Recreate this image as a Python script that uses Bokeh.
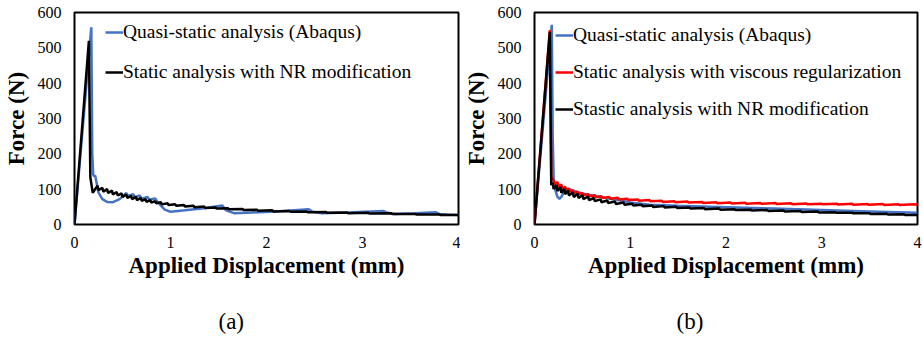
from bokeh.plotting import figure
from bokeh.layouts import row
from bokeh.models import Range1d, FixedTicker, Legend, LegendItem, Title, LinearAxis, CustomJSTickFormatter
from bokeh.embed import file_html
from bokeh.resources import INLINE

# ---------------- data (a) ----------------
qs_a_x = [0, 0.175, 0.185, 0.195, 0.205, 0.215, 0.225, 0.25, 0.29, 0.34, 0.40, 0.47, 0.54, 0.56,
          0.61, 0.63, 0.68, 0.70, 0.76, 0.78, 0.84, 0.87, 0.94, 1.00, 1.15, 1.35, 1.54, 1.58,
          1.66, 1.85, 2.10, 2.44, 2.48, 2.58, 2.85, 3.22, 3.26, 3.34, 3.55, 3.76, 3.80, 3.88, 4.00]
qs_a_y = [0, 558, 200, 141, 136, 139, 125, 90, 72, 64, 63, 72, 89, 80,
          86, 77, 82, 73, 78, 70, 74, 62, 42, 36, 40, 46, 54, 40,
          32, 34, 37, 43, 36, 32, 34, 38, 33, 30, 32, 35, 30, 28, 27]

nr_a_x = [0, 0.15, 0.165, 0.19, 0.24, 0.25, 0.29, 0.30, 0.34, 0.35, 0.39, 0.40, 0.44, 0.45,
          0.49, 0.50, 0.54, 0.55, 0.59, 0.60, 0.64, 0.65, 0.69, 0.70, 0.74, 0.75, 0.79, 0.80,
          0.84, 0.85, 0.90, 0.91, 0.97, 0.98, 1.05, 1.06, 1.14, 1.15, 1.24, 1.25, 1.35, 1.36,
          1.47, 1.48, 1.60, 1.61, 1.75, 1.76, 1.90, 1.91, 2.06, 2.07, 2.24, 2.25, 2.42, 2.43,
          2.62, 2.63, 2.84, 2.85, 3.06, 3.07, 3.30, 3.31, 3.55, 3.56, 3.80, 3.81, 4.00]
nr_a_y = [0, 520, 134, 90, 110, 97, 104, 93, 100, 89, 96, 85, 92, 82,
          88, 78, 85, 75, 81, 72, 78, 69, 75, 67, 72, 64, 69, 62,
          66, 60, 63, 57, 60, 55, 57, 53, 55, 51, 53, 49, 51, 47,
          48, 45, 46, 43, 44, 41, 42, 39, 40, 37, 38, 36, 37, 35,
          35.5, 33.5, 34, 32, 33, 31, 31.5, 29.5, 30, 28, 28.5, 27, 27]

# ---------------- data (b) ----------------
qs_b_x = [0, 0.18, 0.19, 0.20, 0.22, 0.24, 0.26, 0.28, 0.31, 0.34, 0.37, 0.42, 0.50, 0.60,
          0.75, 0.90, 1.00, 1.20, 1.50, 2.00, 2.50, 3.00, 3.50, 4.00]
qs_b_y = [0, 565, 250, 130, 95, 78, 73, 78, 92, 100, 99, 94, 88, 82,
          75, 68, 62, 56, 53, 49, 45, 41, 37, 33]

vr_b_x = [0, 0.16, 0.17, 0.175, 0.20, 0.21, 0.24, 0.25, 0.28, 0.29, 0.32, 0.33, 0.36, 0.37,
          0.40, 0.41, 0.45, 0.46, 0.50, 0.51, 0.56, 0.57, 0.63, 0.64, 0.70, 0.71, 0.78, 0.79,
          0.87, 0.88, 0.97, 0.98, 1.08, 1.09, 1.20, 1.21, 1.33, 1.34, 1.46, 1.47, 1.60, 1.61,
          1.75, 1.76, 1.90, 1.91, 2.05, 2.06, 2.20, 2.21, 2.36, 2.37, 2.52, 2.53, 2.68, 2.69,
          2.84, 2.85, 3.00, 3.01, 3.16, 3.17, 3.32, 3.33, 3.48, 3.49, 3.64, 3.65, 3.80, 3.81,
          3.96, 4.00]
vr_b_y = [0, 550, 300, 135, 125, 114, 120, 108, 113, 102, 107, 97, 102, 93,
          97, 89, 93, 86, 89, 83, 86, 80, 83, 77, 80, 75, 78, 73,
          76, 71, 73, 69, 71, 67, 69, 65.5, 67.5, 64, 66, 63, 65, 62,
          64, 61, 63, 60, 62, 59.5, 61.5, 59, 61, 58.5, 60.5, 58, 60, 57.5,
          59.5, 57, 59, 57, 59, 56.5, 58.5, 56, 58, 56, 58, 55.5, 57.5, 55.5,
          57.5, 56]

nr_b_x = [0, 0.16, 0.17, 0.175, 0.19, 0.20, 0.23, 0.24, 0.27, 0.28, 0.31, 0.32, 0.35, 0.36,
          0.40, 0.41, 0.45, 0.46, 0.50, 0.51, 0.56, 0.57, 0.62, 0.63, 0.69, 0.70, 0.76, 0.77,
          0.84, 0.85, 0.93, 0.94, 1.02, 1.03, 1.12, 1.13, 1.23, 1.24, 1.35, 1.36, 1.48, 1.49,
          1.62, 1.63, 1.77, 1.78, 1.93, 1.94, 2.09, 2.10, 2.26, 2.27, 2.43, 2.44, 2.60, 2.61,
          2.78, 2.79, 2.96, 2.97, 3.14, 3.15, 3.32, 3.33, 3.50, 3.51, 3.68, 3.69, 3.86, 3.87, 4.00]
nr_b_y = [0, 545, 250, 112, 118, 100, 112, 95, 106, 90, 101, 86, 96, 82,
          91, 78, 87, 75, 83, 72, 79, 69, 75, 66, 71, 63, 68, 61,
          65, 58, 62, 56, 59, 54, 56, 51.5, 54, 49.5, 52, 48, 50, 46.5,
          48, 45, 46.5, 43.5, 45, 42, 43.5, 41, 42, 39.5, 41, 38.5, 39.5, 37,
          38, 35.5, 36.5, 34, 35, 33, 33.5, 31.5, 32, 30, 30.5, 28.5, 29, 27, 27]

x_ticks = [0, 1, 2, 3, 4]
y_ticks = [0, 100, 200, 300, 400, 500, 600]

BLUE = "#4472C4"
RED = "#FF0000"
BLACK = "#000000"
FONT = "Liberation Serif"


def make_fig(width, mb_left, mb_right, caption, cap_offset):
    p = figure(width=width, height=337, output_backend="svg", toolbar_location=None,
               x_range=Range1d(0, 4), y_range=Range1d(0, 600),
               min_border_left=mb_left, min_border_right=mb_right,
               min_border_top=12, min_border_bottom=112)
    p.grid.visible = False
    p.outline_line_color = BLACK
    p.outline_line_width = 2
    p.outline_line_alpha = 1
    p.background_fill_color = "white"
    p.border_fill_color = "white"
    p.xaxis.ticker = FixedTicker(ticks=x_ticks)
    p.yaxis.ticker = FixedTicker(ticks=y_ticks)
    for ax in (p.xaxis, p.yaxis):
        ax.axis_line_color = None
        ax.major_tick_line_color = None
        ax.minor_tick_line_color = None
        ax.major_tick_out = 0
        ax.major_tick_in = 0
        ax.minor_tick_out = 0
        ax.minor_tick_in = 0
        ax.major_label_text_font = FONT
        ax.major_label_text_font_size = "16px"
        ax.major_label_text_color = BLACK
        ax.axis_label_text_font = FONT
        ax.axis_label_text_font_style = "bold"
        ax.axis_label_text_font_size = "23px"
        ax.axis_label_text_color = BLACK
    p.xaxis.axis_label = "Applied Displacement (mm)"
    p.yaxis.axis_label = "Force (N)"
    p.xaxis.major_label_standoff = 12
    p.yaxis.major_label_standoff = 13
    p.xaxis.axis_label_standoff = 2
    p.yaxis.axis_label_standoff = 6
    # empty (white) spacer panel between the axis title and the caption
    spacer = LinearAxis(ticker=FixedTicker(ticks=[2]), axis_line_color=None,
                        major_tick_line_color="white", major_tick_line_width=1,
                        minor_tick_line_color=None,
                        major_tick_out=22, major_tick_in=0, minor_tick_out=0, minor_tick_in=0,
                        major_label_standoff=0, axis_label_standoff=0,
                        formatter=CustomJSTickFormatter(code="return ''"))
    p.add_layout(spacer, "below")
    cap = Title(text=caption, align="left", offset=cap_offset, standoff=8,
                vertical_align="bottom",
                text_font=FONT, text_font_size="23px", text_font_style="normal",
                text_color=BLACK)
    p.add_layout(cap, "below")
    return p


def style_legend(leg, spacing):
    leg.border_line_color = None
    leg.background_fill_alpha = 0
    leg.padding = 0
    leg.margin = 0
    leg.spacing = spacing
    leg.label_standoff = 0
    leg.glyph_width = 18
    leg.glyph_height = 30
    leg.label_height = 30
    leg.label_text_font = FONT
    leg.label_text_font_size = "19.5px"
    leg.label_text_color = BLACK


# ---- (a)
p1 = make_fig(460, 73, 2, "(a)", 144)
r1 = p1.line(qs_a_x, qs_a_y, line_color=BLUE, line_width=2.5)
r2 = p1.line(nr_a_x, nr_a_y, line_color=BLACK, line_width=2.5)
leg1 = Legend(items=[LegendItem(label="Quasi-static analysis (Abaqus)", renderers=[r1]),
                     LegendItem(label="Static analysis with NR modification", renderers=[r2])],
              location=(31, 137))
style_legend(leg1, 10)
p1.add_layout(leg1)

# ---- (b)
p2 = make_fig(463, 73, 6, "(b)", 142)
s1 = p2.line(qs_b_x, qs_b_y, line_color=BLUE, line_width=2.5)
s2 = p2.line(vr_b_x, vr_b_y, line_color=RED, line_width=2.5)
s3 = p2.line(nr_b_x, nr_b_y, line_color=BLACK, line_width=2.5)
leg2 = Legend(items=[LegendItem(label="Quasi-static analysis (Abaqus)", renderers=[s1]),
                     LegendItem(label="Static analysis with viscous regularization", renderers=[s2]),
                     LegendItem(label="Stastic analysis with NR modification", renderers=[s3])],
              location=(21, 100))
style_legend(leg2, 7)
p2.add_layout(leg2)

layout = row(p1, p2)
open("out.html", "w").write(file_html(layout, INLINE))
